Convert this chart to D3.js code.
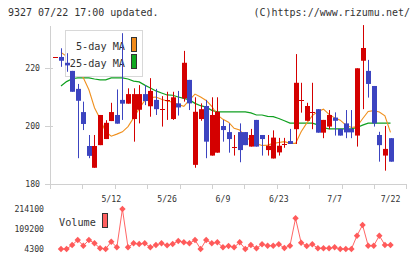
<!DOCTYPE html>
<html lang="en">
<head>
<meta charset="utf-8">
<title>9327 chart</title>
<script src="https://cdn.jsdelivr.net/npm/d3@7"></script>
<style>
  body { margin: 0; background: #fff; }
  text { font-family: "DejaVu Sans Mono", monospace; fill: #333; }
</style>
</head>
<body>
<script>
// daily candles, index 0..60 (4/23 .. 7/22)
var open  = [223.7,223.8,221.8,219.0,212.8,204.8,193.1,185.6,193.4,195.5,201.7,203.8,209.0,207.7,202.4,205.6,211.0,206.8,209.0,205.8,209.0,202.4,207.8,209.5,215.9,186.6,202.4,206.9,189.8,190.8,200.0,197.9,192.9,197.9,197.9,192.9,202.1,196.9,191.7,188.8,190.9,193.8,194.8,198.9,209.0,201.8,204.7,205.8,197.7,199.8,202.9,199.0,200.9,199.0,196.7,222.5,219.0,213.8,196.9,189.8,195.8];
var high  = [223.7,226.8,225.1,219.0,214.5,208.4,196.9,196.9,203.8,202.0,208.0,212.6,232.0,213.0,213.0,214.1,214.1,216.5,212.8,210.3,211.8,211.8,212.1,225.9,215.9,209.9,207.8,209.0,209.9,209.9,202.1,200.9,196.9,200.9,197.9,199.0,202.1,196.9,196.9,198.5,195.9,195.9,199.0,224.8,214.9,208.0,214.9,205.8,202.1,205.5,204.7,199.0,205.5,205.5,219.9,234.8,222.8,213.8,198.0,200.0,195.8];
var low   = [223.7,220.4,218.7,211.8,188.9,198.6,188.9,185.6,193.4,195.5,201.7,200.8,202.1,207.7,194.6,200.9,207.2,203.2,203.8,199.8,202.1,202.1,203.6,208.4,205.5,185.6,201.8,188.9,189.8,190.8,194.6,190.8,189.8,187.5,193.4,192.9,192.9,189.8,189.8,188.8,189.8,192.5,193.8,193.8,204.6,201.8,198.9,197.7,195.8,198.9,196.7,196.7,195.8,195.8,192.9,205.8,209.8,199.8,187.7,184.6,187.7];
var close = [223.7,222.5,220.9,211.8,208.7,200.7,189.7,193.1,203.8,201.1,204.8,200.8,207.7,211.0,211.0,211.0,208.6,212.1,205.8,205.8,209.0,209.9,206.4,221.8,207.8,204.9,205.8,194.6,203.8,204.9,198.6,195.5,192.9,191.7,193.4,196.9,192.9,195.5,193.2,196.0,193.2,193.8,193.8,214.9,209.0,206.9,204.7,197.7,202.1,203.8,201.8,196.7,197.8,197.8,219.9,226.9,214.5,200.9,193.4,192.1,187.7];
var ma5   = [null,225.4,224.0,222.0,219.5,216.6,212.5,206.3,202.5,198.0,196.5,197.2,198.0,199.8,202.8,206.0,208.8,209.8,210.0,209.2,208.6,208.2,207.4,206.8,209.0,211.0,210.0,208.8,206.8,203.8,202.3,201.3,199.2,198.6,196.3,195.0,193.9,193.3,193.4,194.0,194.3,194.6,194.0,194.0,198.0,201.0,203.6,205.0,205.8,204.0,202.8,202.0,200.3,199.5,199.8,202.5,205.0,205.3,204.8,203.5,197.8];
var ma25  = [null,213.8,215.3,216.3,216.6,216.6,216.6,216.2,215.9,215.9,216.6,216.6,216.6,216.2,215.5,215.2,214.1,213.1,212.1,211.4,210.7,210.6,210.0,209.5,209.0,207.8,207.0,206.5,205.4,204.9,204.9,204.9,204.9,204.9,204.9,204.5,203.8,203.8,203.3,203.2,202.6,201.8,201.0,201.0,201.0,201.0,201.0,200.4,199.4,199.0,199.0,199.0,199.0,199.0,199.5,200.3,201.0,201.0,201.0,201.0,201.0];
var volume = [null,4300,4300,25300,51500,21600,51500,34200,8000,4300,42600,13200,214100,13200,34200,30500,34200,13200,25300,34200,23400,30500,46300,39400,34200,51500,4300,51500,34200,39400,13200,20000,13200,39400,4300,25300,8000,29000,21600,21600,29000,9500,21600,165300,37300,20000,29000,8000,8000,8000,13200,4300,4300,4300,74100,130200,21600,21600,74100,25300,25300];

var dateLabels = ["5/12", "5/26", "6/9", "6/23", "7/7", "7/22"];
var dateIndex  = [10, 20, 30, 40, 50, 60];
var priceTicks = [180, 200, 220];
var volumeTicks = [4300, 109200, 214100];

var width = 420, height = 259;
var red = "#d40000", blue = "#3c44c0", axisColor = "#d0d0d0";

var svg = d3.select("body").append("svg").attr("width", width).attr("height", height);

var x = d3.scaleLinear().domain([0, 60]).range([55.4, 390.5]);
var y = d3.scaleLinear().domain([180, 220]).range([184, 68]);
var yv = d3.scaleLinear().domain([4300, 214100]).range([249, 209]);
var grid = d3.scaleLinear().domain([0, 11]).range([50, 406.4]);

// header
svg.append("text").attr("x", 8).attr("y", 16).attr("font-size", "10px").text("9327 07/22 17:00 updated.");
svg.append("text").attr("x", 410).attr("y", 16).attr("font-size", "10px").attr("text-anchor", "end").text("(C)https://www.rizumu.net/");

// axes
svg.append("line").attr("x1", 50.5).attr("x2", 50.5).attr("y1", 26).attr("y2", 189).attr("stroke", axisColor);
svg.append("line").attr("x1", 45).attr("x2", grid(11)).attr("y1", y(180) + 0.5).attr("y2", y(180) + 0.5).attr("stroke", axisColor);
svg.selectAll("line.xt").data(d3.range(1, 12)).enter().append("line").attr("class", "xt")
  .attr("x1", function (d) { return Math.round(grid(d)) + 0.5; }).attr("x2", function (d) { return Math.round(grid(d)) + 0.5; })
  .attr("y1", y(180)).attr("y2", y(180) + 5).attr("stroke", axisColor);
svg.selectAll("line.yt").data(priceTicks).enter().append("line").attr("class", "yt")
  .attr("x1", 45).attr("x2", 53).attr("y1", function (d) { return Math.round(y(d)) + 0.5; }).attr("y2", function (d) { return Math.round(y(d)) + 0.5; })
  .attr("stroke", axisColor);
svg.selectAll("text.yl").data(priceTicks).enter().append("text").attr("class", "yl")
  .attr("x", 40).attr("y", function (d) { return y(d) + 3; }).attr("text-anchor", "end").attr("font-size", "8.2px")
  .text(function (d) { return d; });
svg.selectAll("text.xl").data(dateLabels).enter().append("text").attr("class", "xl")
  .attr("x", function (d, i) { return x(dateIndex[i]); }).attr("y", 202).attr("text-anchor", "middle").attr("font-size", "8.2px")
  .text(function (d) { return d; });

// moving averages
var maLine = function (arr) {
  return d3.line().defined(function (d) { return d != null; })
    .x(function (d, i) { return x(i); }).y(function (d) { return y(d); })(arr);
};
svg.append("path").attr("d", maLine(ma25)).attr("fill", "none").attr("stroke", "#10a020").attr("stroke-width", 1.2);
svg.append("path").attr("d", maLine(ma5)).attr("fill", "none").attr("stroke", "#f0901e").attr("stroke-width", 1.1);

// legend
var lg = svg.append("g");
lg.append("rect").attr("x", 65.5).attr("y", 30.5).attr("width", 77).attr("height", 46).attr("fill", "#fff").attr("stroke", "#d8d8d8");
lg.append("text").attr("x", 125).attr("y", 50).attr("text-anchor", "end").attr("font-size", "10.2px").text("5-day MA");
lg.append("text").attr("x", 125).attr("y", 67).attr("text-anchor", "end").attr("font-size", "10.2px").text("25-day MA");
lg.append("rect").attr("x", 131.5).attr("y", 37.5).attr("width", 5).attr("height", 14).attr("fill", "#f08a1a").attr("stroke", "#333");
lg.append("rect").attr("x", 131.5).attr("y", 54.5).attr("width", 5).attr("height", 14).attr("fill", "#10a820").attr("stroke", "#333");

// candles
var candles = svg.append("g");
open.forEach(function (o, i) {
  var c = close[i];
  var cx = Math.round(x(i));
  var col = c >= o ? red : blue;
  candles.append("line").attr("x1", cx + 0.5).attr("x2", cx + 0.5).attr("y1", y(high[i])).attr("y2", y(low[i])).attr("stroke", col);
  if (Math.abs(c - o) < 0.05) {
    candles.append("line").attr("x1", cx - 2).attr("x2", cx + 3).attr("y1", Math.round(y(c)) + 0.5).attr("y2", Math.round(y(c)) + 0.5).attr("stroke", col);
  } else {
    candles.append("rect").attr("x", cx - 2).attr("width", 5)
      .attr("y", y(Math.max(o, c))).attr("height", y(Math.min(o, c)) - y(Math.max(o, c))).attr("fill", col);
  }
});

// volume
svg.selectAll("text.vl").data(volumeTicks).enter().append("text").attr("class", "vl")
  .attr("x", 44).attr("y", function (d) { return yv(d) + 3; }).attr("text-anchor", "end").attr("font-size", "8.2px")
  .text(function (d) { return d; });
svg.append("text").attr("x", 59).attr("y", 226).attr("font-size", "10.2px").text("Volume");
svg.append("rect").attr("x", 102.5).attr("y", 213.5).attr("width", 5).attr("height", 14).attr("fill", "#ff6060").attr("stroke", "#333");

var vLine = d3.line().defined(function (d) { return d != null; })
  .x(function (d, i) { return x(i); }).y(function (d) { return yv(d); });
svg.append("path").attr("d", vLine(volume)).attr("fill", "none").attr("stroke", "#ff6666").attr("stroke-width", 1);
var vPts = volume.map(function (v, i) { return { i: i, v: v }; }).filter(function (d) { return d.v != null; });
svg.selectAll("path.vp").data(vPts).enter().append("path").attr("class", "vp")
  .attr("d", d3.symbol().type(d3.symbolDiamond2).size(26))
  .attr("transform", function (d) { return "translate(" + x(d.i) + "," + yv(d.v) + ")"; })
  .attr("fill", "#ff5a5a");
</script>
</body>
</html>
